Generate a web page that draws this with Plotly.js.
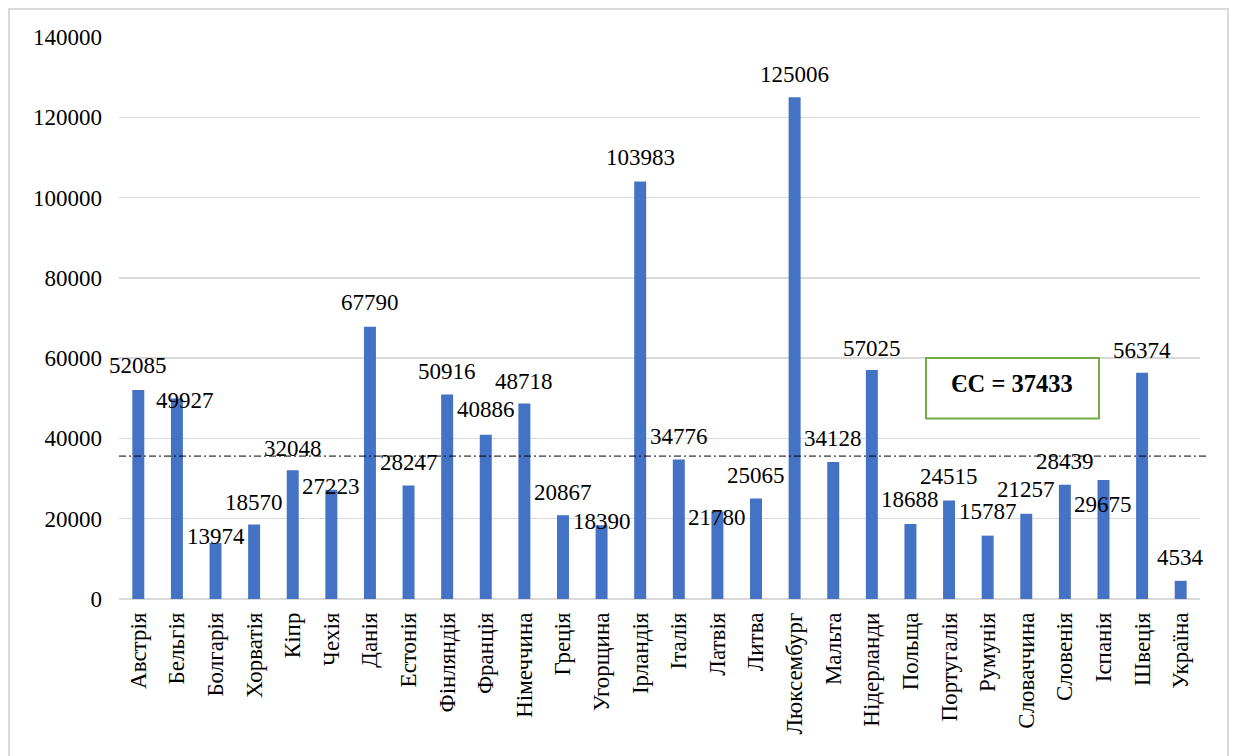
<!DOCTYPE html>
<html>
<head>
<meta charset="utf-8">
<script src="https://cdn.plot.ly/plotly-3.0.1.min.js"></script>
<style>
html,body{margin:0;padding:0;background:#fff;}
#chart{width:1235px;height:756px;}
</style>
</head>
<body>
<div id="chart"></div>
<script>
const countries = ["Австрія","Бельгія","Болгарія","Хорватія","Кіпр","Чехія","Данія","Естонія","Фінляндія","Франція","Німеччина","Греція","Угорщина","Ірландія","Італія","Латвія","Литва","Люксембург","Мальта","Нідерланди","Польща","Португалія","Румунія","Словаччина","Словенія","Іспанія","Швеція","Україна"];
const values = [52085,49927,13974,18570,32048,27223,67790,28247,50916,40886,48718,20867,18390,103983,34776,21780,25065,125006,34128,57025,18688,24515,15787,21257,28439,29675,56374,4534];
const yTicks = [0,20000,40000,60000,80000,100000,120000,140000];
const euLabel = "ЄС = 37433";
const refLineValue = [35600];

// label offsets (pixels) to mimic original placement
const labelDY = [24,-2,6,22,22,3,24,23,23,25,22,23,4,24,23,-6,23,23,24,22,24,24,24,24,23,-25,22,23];
const labelDX = countries.map((c,i)=> i===1 ? 8 : 0);

const font = "Liberation Serif, Times New Roman, serif";
const FS = 23;

const L = 119, R = 1200, T = 37, B = 599;
const PW = R - L, PH = B - T;

const annotations = values.map((v,i)=>({
  x: countries[i], y: v, xref:'x', yref:'y',
  text: String(v), showarrow:false,
  yanchor:'middle', xanchor:'center',
  xshift: labelDX[i], yshift: labelDY[i],
  font:{family:font, size:FS, color:'#000'}
}));
annotations.push({
  xref:'paper', yref:'paper',
  x:(1012-L)/PW, y:(B-383)/PH,
  text:'<b>'+euLabel+'</b>', showarrow:false,
  xanchor:'center', yanchor:'middle',
  font:{family:font, size:24.5, color:'#000'}
});

const shapes = [
  {type:'line', xref:'paper', yref:'y', x0:0, x1:(1207-L)/PW, y0:refLineValue[0], y1:refLineValue[0],
   line:{color:'#000', width:1, dash:'7px,3px,2px,3px'}},
  {type:'rect', xref:'paper', yref:'paper',
   x0:(926-L)/PW, x1:(1099-L)/PW, y0:(B-418.5)/PH, y1:(B-358)/PH,
   line:{color:'#70AD47', width:2}, fillcolor:'rgba(0,0,0,0)'},
  {type:'rect', xref:'paper', yref:'paper',
   x0:(9-L)/PW, x1:(1228-L)/PW, y0:-0.4, y1:(B-9)/PH,
   line:{color:'#d9d9d9', width:2}, fillcolor:'rgba(0,0,0,0)', layer:'below'}
];

const trace = {
  type:'bar', x:countries, y:values,
  marker:{color:'#4472C4'},
  hoverinfo:'x+y'
};

const layout = {
  width:1235, height:756,
  margin:{l:L, r:1235-R, t:T, b:756-B, autoexpand:false},
  paper_bgcolor:'#fff', plot_bgcolor:'#fff',
  bargap:0.69,
  showlegend:false,
  font:{family:font, size:FS, color:'#000'},
  xaxis:{
    type:'category', range:[-0.5, countries.length-0.5], autorange:false,
    tickangle:-90, showgrid:false, zeroline:false,
    showline:false, ticks:'', ticklabelstandoff:8, automargin:false,
    tickfont:{family:font, size:FS, color:'#000'}
  },
  yaxis:{
    range:[0,140000], autorange:false, tickvals:yTicks, ticktext:yTicks.map(String),
    showgrid:true, gridcolor:'#d9d9d9', gridwidth:1.5,
    zeroline:true, zerolinecolor:'#d9d9d9', zerolinewidth:1.5,
    showline:false, ticks:'', ticklabelstandoff:16, automargin:false,
    tickfont:{family:font, size:FS, color:'#000'}
  },
  annotations:annotations,
  shapes:shapes
};

Plotly.newPlot('chart',[trace],layout,{displayModeBar:false, staticPlot:true});
</script>
</body>
</html>
